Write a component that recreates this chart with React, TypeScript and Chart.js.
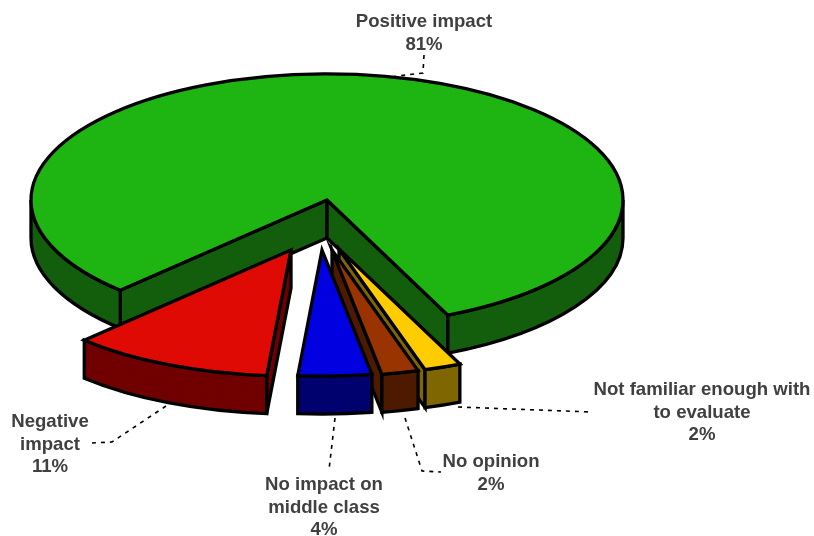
import React, { useEffect, useRef } from "react";
import { Chart, registerables } from "chart.js";

Chart.register(...registerables);

const categories = [
  ["Positive impact"],
  ["Not familiar enough with", "to evaluate"],
  ["No opinion"],
  ["No impact on", "middle class"],
  ["Negative", "impact"],
];
const shares = [81, 2, 2, 4, 11];
const topColors = ["#1EB512", "#FFCC00", "#993300", "#0000E0", "#E00A04"];
const sideColors = ["#125E0C", "#806600", "#4D1A00", "#00006E", "#700000"];

// How far each wedge is pulled out of the pie, in canvas pixels.
const pullX = [0, 12, 5, -5, -36];
const pullY = [0, 49, 50, 50, 50];

// Label anchor (centre x, first baseline y) and dashed leader for each wedge.
const labelX = [424, 702, 491, 324, 50];
const labelY = [27, 395, 467, 490, 427];
const leaders = [
  [[424, 55], [423, 73], [390, 77]],
  [[458, 407], [592, 412]],
  [[405, 418], [422, 471], [441, 472]],
  [[335, 418], [329, 470]],
  [[166, 406], [112, 442], [92, 443]],
];

const TILT = 0.426;
const DEPTH = 38;
const LINE_HEIGHT = 22.5;

const pie3d = {
  id: "pie3d",
  beforeDatasetsDraw(chart: any) {
    const { ctx } = chart;
    const arcs = chart.getDatasetMeta(0).data;
    const paint = (fill: string, trace: () => void) => {
      ctx.beginPath();
      trace();
      ctx.closePath();
      ctx.fillStyle = fill;
      ctx.fill();
      ctx.stroke();
    };
    ctx.save();
    ctx.lineWidth = 3.3;
    ctx.lineJoin = "miter";
    ctx.miterLimit = 10;
    ctx.strokeStyle = "#000";
    arcs.forEach((arc: any, i: number) => {
      const { x, y, startAngle: a, endAngle: b, outerRadius: r } = arc.getProps(
        ["x", "y", "startAngle", "endAngle", "outerRadius"],
        true
      );
      const cx = x + pullX[i];
      const cy = y + pullY[i];
      const ry = r * TILT;
      const px = (t: number) => cx + r * Math.cos(t);
      const py = (t: number) => cy + ry * Math.sin(t);
      const cutFace = (t: number) =>
        paint(sideColors[i], () => {
          ctx.moveTo(cx, cy);
          ctx.lineTo(px(t), py(t));
          ctx.lineTo(px(t), py(t) + DEPTH);
          ctx.lineTo(cx, cy + DEPTH);
        });
      if (Math.cos(a) < 0) cutFace(a);
      if (Math.cos(b) > 0) cutFace(b);
      [0, 2 * Math.PI].forEach((k) => {
        const lo = Math.max(a, k);
        const hi = Math.min(b, k + Math.PI);
        if (lo >= hi) return;
        paint(sideColors[i], () => {
          ctx.ellipse(cx, cy, r, ry, 0, lo, hi);
          ctx.ellipse(cx, cy + DEPTH, r, ry, 0, hi, lo, true);
        });
      });
      paint(topColors[i], () => {
        ctx.moveTo(cx, cy);
        ctx.ellipse(cx, cy, r, ry, 0, a, b);
      });
    });
    ctx.restore();
    return false;
  },
  afterDraw(chart: any) {
    const { ctx } = chart;
    ctx.save();
    ctx.strokeStyle = "#000";
    ctx.lineWidth = 1.6;
    ctx.setLineDash([4, 5]);
    leaders.forEach((points) => {
      ctx.beginPath();
      points.forEach(([x, y], n) => (n ? ctx.lineTo(x, y) : ctx.moveTo(x, y)));
      ctx.stroke();
    });
    ctx.fillStyle = "#404040";
    ctx.font = "bold 18.6px 'Liberation Sans'";
    ctx.textAlign = "center";
    ctx.textBaseline = "alphabetic";
    categories.forEach((lines, i) => {
      [...lines, `${shares[i]}%`].forEach((text, n) => {
        ctx.fillText(text, labelX[i], labelY[i] + n * LINE_HEIGHT);
      });
    });
    ctx.restore();
  },
};

export default function App() {
  const canvasRef = useRef<HTMLCanvasElement>(null);
  useEffect(() => {
    const chart = new Chart(canvasRef.current!, {
      type: "pie",
      data: {
        labels: categories.map((c) => c.join(" ")),
        datasets: [{ data: shares, backgroundColor: topColors, borderWidth: 0 }],
      },
      options: {
        animation: false,
        responsive: false,
        rotation: 224.3,
        radius: 296,
        layout: { padding: { left: 0, top: 0, right: 160, bottom: 136 } },
        plugins: { legend: { display: false }, tooltip: { enabled: false } },
      },
      plugins: [pie3d],
    } as any);
    return () => chart.destroy();
  }, []);
  return (
    <div style={{ position: "absolute", left: 0, top: 0, width: 814, height: 536, background: "#fff" }}>
      <canvas ref={canvasRef} width={814} height={536} style={{ display: "block" }} />
    </div>
  );
}
